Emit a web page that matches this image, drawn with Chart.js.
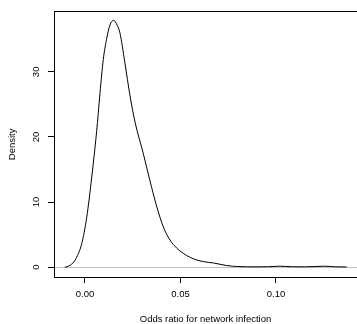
<!DOCTYPE html>
<html>
<head>
<meta charset="utf-8">
<script src="https://cdn.jsdelivr.net/npm/chart.js@4/dist/chart.umd.min.js"></script>
<style>
  html,body{margin:0;padding:0;background:#fff;}
  #wrap{width:357px;height:324px;position:relative;}
</style>
</head>
<body>
<div id="wrap"><canvas id="ch"></canvas></div>
<script>
// density estimate
const xs = [-0.0105,-0.0096,-0.0075,-0.0052,-0.0017,0.0009,0.0035,0.0061,0.0079,0.0096,0.0113,0.0131,0.015,0.0168,0.0183,0.0209,0.0236,0.0262,0.0305,0.034,0.0375,0.041,0.044,0.0462,0.0497,0.0532,0.0575,0.062,0.0672,0.0742,0.08,0.09,0.096,0.102,0.108,0.115,0.1257,0.131,0.137];
const dens = [0,0.05,0.35,1.06,3.6,7.6,13.7,20.8,26.8,31.9,35,37.2,37.9,37.2,36,31.4,26.3,22.3,17.5,13.3,9.4,6.2,4.4,3.5,2.5,1.8,1.2,0.85,0.65,0.25,0.1,0.05,0.07,0.15,0.07,0.05,0.15,0.05,0.03];
const xTicks = [0,0.05,0.10];
const yTicks = [0,10,20,30];
const xTitle = 'Odds ratio for network infection';
const yTitle = 'Density';

const FONT = 'Liberation Sans, Arial, Helvetica, sans-serif';

const pts = xs.map((x,i)=>({x, y:dens[i]}));

new Chart(document.getElementById('ch'), {
  type:'line',
  data:{
    datasets:[{
      data:pts,
      borderColor:'#000', borderWidth:1,
      pointRadius:0, fill:false,
      cubicInterpolationMode:'monotone'
    }]
  },
  options:{
    responsive:true, maintainAspectRatio:false, animation:false,
    layout:{padding:0},
    plugins:{legend:{display:false}, tooltip:{enabled:false}},
    scales:{
      x:{
        type:'linear', position:'bottom',
        min:-0.0162, max:0.1424,
        afterBuildTicks:s=>{ s.ticks = xTicks.map(v=>({value:v})); },
        afterFit:s=>{ s.height = 47; },
        grid:{drawOnChartArea:false, color:'#000', tickLength:6},
        border:{display:true, color:'#000', width:1},
        ticks:{color:'#000', padding:6, maxRotation:0, autoSkip:false,
          font:{family:FONT, size:9.5},
          callback:v=>v.toFixed(2)},
        title:{display:true, text:xTitle, color:'#000',
          font:{family:FONT, size:9.5, lineHeight:1}, padding:{top:0,bottom:0}}
      },
      xTop:{
        type:'linear', position:'top',
        min:-0.0162, max:0.1424,
        afterFit:s=>{ s.height = 8; },
        grid:{display:false, drawTicks:false},
        border:{display:true, color:'#000', width:1},
        ticks:{display:false}
      },
      y:{
        min:-1.51, max:39.24,
        afterBuildTicks:s=>{ s.ticks = yTicks.map(v=>({value:v})); },
        afterFit:s=>{ s.width = 54; },
        grid:{drawOnChartArea:true, tickLength:6, tickColor:'#000',
          color:c=> (c.tick && c.tick.value===0) ? '#bebebe' : 'rgba(0,0,0,0)'},
        border:{display:true, color:'#000', width:1},
        ticks:{color:'#000', padding:6, minRotation:90, maxRotation:90, crossAlign:'center',
          font:{family:FONT, size:9.5}},
        title:{display:true, text:yTitle, color:'#000',
          font:{family:FONT, size:9.5, lineHeight:1}, padding:{top:8,bottom:0}}
      }
    }
  }
});
</script>
</body>
</html>
